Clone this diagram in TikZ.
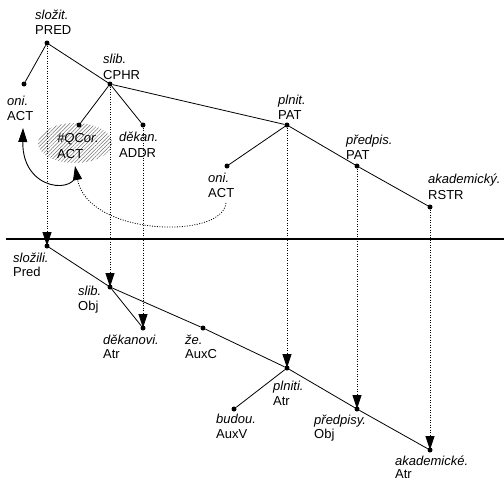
\documentclass[tikz,border=0pt]{standalone}
\usepackage{fontspec}
\setmainfont{Liberation Sans}
\usetikzlibrary{arrows.meta,patterns.meta}
\tikzset{
  dot/.style={circle,fill=black,inner sep=0pt,minimum size=5pt},
  lem/.style={anchor=base west,inner sep=0pt,font=\fontsize{13}{15}\selectfont\itshape},
  fun/.style={anchor=base west,inner sep=0pt,font=\fontsize{13}{15}\selectfont},
  edge/.style={line width=0.8pt,black},
  corr/.style={line width=0.8pt,dash pattern=on 1pt off 1.5pt,-{Triangle[width=9pt,length=14pt]}},
  corefs/.style={line width=0.9pt,-{Triangle[width=9pt,length=14pt]}},
  corefd/.style={line width=0.8pt,dash pattern=on 1pt off 1.5pt,-{Triangle[width=9pt,length=14pt]}},
}
\newcommand{\lbl}[6]{\node[lem] (#1l) at (#2,#3) {#5}; \node[fun] (#1f) at (#2,#4) {#6};}
\begin{document}
\begin{tikzpicture}[x=1pt,y=-1pt]
\useasboundingbox (0,0) rectangle (504,480);
% hatched ellipse
\path[pattern={Lines[angle=45,distance=2.6pt,line width=0.5pt]},pattern color=black!55] (75,143) ellipse [x radius=37,y radius=20];
% top tree dots
\node[dot] (pred) at (47,43) {};
\node[dot] (oniL) at (24,84) {};
\node[dot] (cphr) at (110,84) {};
\node[dot] (qcor) at (79,125) {};
\node[dot] (addr) at (143,125) {};
\node[dot] (pat) at (287,125) {};
\node[dot] (oniM) at (227,166) {};
\node[dot] (pat2) at (357,166) {};
\node[dot] (rstr) at (430,207) {};
% bottom tree dots
\node[dot] (Pred) at (47,246) {};
\node[dot] (Obj) at (110,287) {};
\node[dot] (Atr1) at (143,328) {};
\node[dot] (AuxC) at (203,328) {};
\node[dot] (Atr2) at (287,368) {};
\node[dot] (AuxV) at (234,409) {};
\node[dot] (Obj2) at (357,409) {};
\node[dot] (Atr3) at (430,450) {};
% labels
\lbl{a}{35}{19}{34}{složit.}{PRED}
\lbl{b}{7}{105}{120}{oni.}{ACT}
\lbl{c}{103}{63}{79}{slib.}{CPHR}
\lbl{d}{57}{142}{158}{\#QCor.}{ACT}
\lbl{e}{119}{141}{157}{děkan.}{ADDR}
\lbl{f}{278}{104}{119}{plnit.}{PAT}
\lbl{g}{208}{182}{197}{oni.}{ACT}
\lbl{h}{346}{144}{159}{předpis.}{PAT}
\lbl{i}{428}{183}{199}{akademický.}{RSTR}
\lbl{j}{13}{262}{276}{složili.}{Pred}
\lbl{k}{78}{295}{310}{slib.}{Obj}
\lbl{l}{103}{344}{358}{děkanovi.}{Atr}
\lbl{m}{185}{344}{358}{že.}{AuxC}
\lbl{n}{273}{390}{405}{plniti.}{Atr}
\lbl{o}{216}{423}{438}{budou.}{AuxV}
\lbl{p}{314}{424}{438}{předpisy.}{Obj}
\lbl{q}{395}{465}{478}{akademické.}{Atr}
% separator
\coordinate (sepL) at (6,239);
\coordinate (sepR) at (504,239);
\draw[line width=1.3pt] (sepL) -- (sepR);
% top edges
\draw[edge] (pred) -- (oniL);
\draw[edge] (pred) -- (cphr);
\draw[edge] (cphr) -- (qcor);
\draw[edge] (cphr) -- (addr);
\draw[edge] (cphr) -- (pat);
\draw[edge] (pat) -- (oniM);
\draw[edge] (pat) -- (pat2);
\draw[edge] (pat2) -- (rstr);
% bottom edges
\draw[edge] (Pred) -- (Obj);
\draw[edge] (Obj) -- (Atr1);
\draw[edge] (Obj) -- (AuxC);
\draw[edge] (AuxC) -- (Atr2);
\draw[edge] (Atr2) -- (AuxV);
\draw[edge] (Atr2) -- (Obj2);
\draw[edge] (Obj2) -- (Atr3);
% correspondences
\draw[corr] (pred) -- (Pred.center);
\draw[corr] (cphr) -- (Obj.center);
\draw[corr] (addr) -- (Atr1.center);
\draw[corr] (pat) -- (Atr2.center);
\draw[corr] (pat2) -- (Obj2.center);
\draw[corr] (rstr) -- (Atr3.center);
% coreference arrows
\coordinate (s1) at (77,171);
\coordinate (e1) at (23,128);
\draw[corefs] (s1) .. controls (78,195) and (22,192) .. (e1);
\coordinate (s2) at (226,203);
\coordinate (e2) at (75,166);
\draw[corefd] (s2) .. controls (222,240) and (88,236) .. (e2);
\end{tikzpicture}
\end{document}
